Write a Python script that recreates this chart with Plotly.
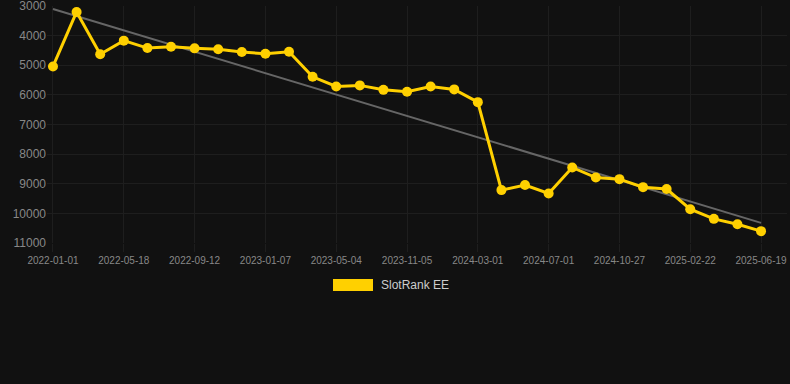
import plotly.graph_objects as go

dates = ["2022-01-01", "2022-02-15", "2022-04-01", "2022-05-18", "2022-06-26", "2022-08-04",
         "2022-09-12", "2022-10-21", "2022-11-29", "2023-01-07", "2023-02-15", "2023-03-26",
         "2023-05-04", "2023-07-05", "2023-09-04", "2023-11-05", "2023-12-14", "2024-01-22",
         "2024-03-01", "2024-04-10", "2024-05-21", "2024-07-01", "2024-08-09", "2024-09-18",
         "2024-10-27", "2024-12-05", "2025-01-13", "2025-02-22", "2025-04-01", "2025-05-10",
         "2025-06-19"]
ranks = [5040, 3200, 4630, 4170, 4420, 4375, 4430, 4460, 4555, 4610, 4545, 5390,
         5715, 5680, 5830, 5895, 5715, 5815, 6245, 9215, 9045, 9330, 8450, 8790,
         8845, 9115, 9180, 9860, 10185, 10365, 10600]
trend_x = [dates[0], dates[-1]]
trend_y = [3100, 10320]
tick_labels = dates[::3]
y_ticks = [3000, 4000, 5000, 6000, 7000, 8000, 9000, 10000, 11000]
series_name = "SlotRank EE"

YELLOW = "#FFD000"
BG = "#111111"

fig = go.Figure()
fig.add_trace(go.Scatter(x=trend_x, y=trend_y, mode="lines",
                         line=dict(color="#666666", width=2), showlegend=False,
                         hoverinfo="skip"))
fig.add_trace(go.Scatter(x=dates, y=ranks, mode="lines+markers", name=series_name,
                         line=dict(color=YELLOW, width=3),
                         marker=dict(color=YELLOW, size=10), showlegend=False))

L, R, T, B = 47, 3, 6, 141
W, H = 790, 384
pw, ph = W - L - R, H - T - B

fig.update_layout(
    width=W, height=H,
    margin=dict(l=L, r=R, t=T, b=B),
    paper_bgcolor=BG, plot_bgcolor=BG,
    font=dict(family="Liberation Sans, Arial, sans-serif", size=11, color="#888888"),
    xaxis=dict(type="category", categoryorder="array", categoryarray=dates,
               range=[-0.254, 31.1], tickmode="array", tickvals=tick_labels,
               ticktext=tick_labels, showgrid=True, gridcolor="#1e1e1e",
               zeroline=False, showline=False, ticks="outside", ticklen=8,
               tickcolor="#1e1e1e", tickfont=dict(size=10, color="#888888"),
               ticklabeloverflow="allow", automargin=False),
    yaxis=dict(range=[11000, 3000], tickmode="array", tickvals=y_ticks,
               ticktext=[str(v) for v in y_ticks],
               showgrid=True, gridcolor="#1e1e1e", zeroline=False, showline=False,
               ticks="", tickfont=dict(size=12, color="#888888"),
               ticklabeloverflow="allow", automargin=False),
    showlegend=False,
)

def px_x(p):
    return (p - L) / pw

def px_y(p):
    return (H - B - p) / ph

fig.add_shape(type="rect", xref="paper", yref="paper",
              x0=px_x(333), x1=px_x(373), y0=px_y(291), y1=px_y(279),
              fillcolor=YELLOW, line=dict(width=0))
fig.add_annotation(xref="paper", yref="paper", x=px_x(379), y=px_y(285),
                   text=series_name, showarrow=False, xanchor="left", yanchor="middle",
                   font=dict(size=12, color="#cccccc"))

fig.write_html("out.html", config={"displayModeBar": False},
               post_script="document.body.style.margin='0';document.body.style.background='#111111';")
